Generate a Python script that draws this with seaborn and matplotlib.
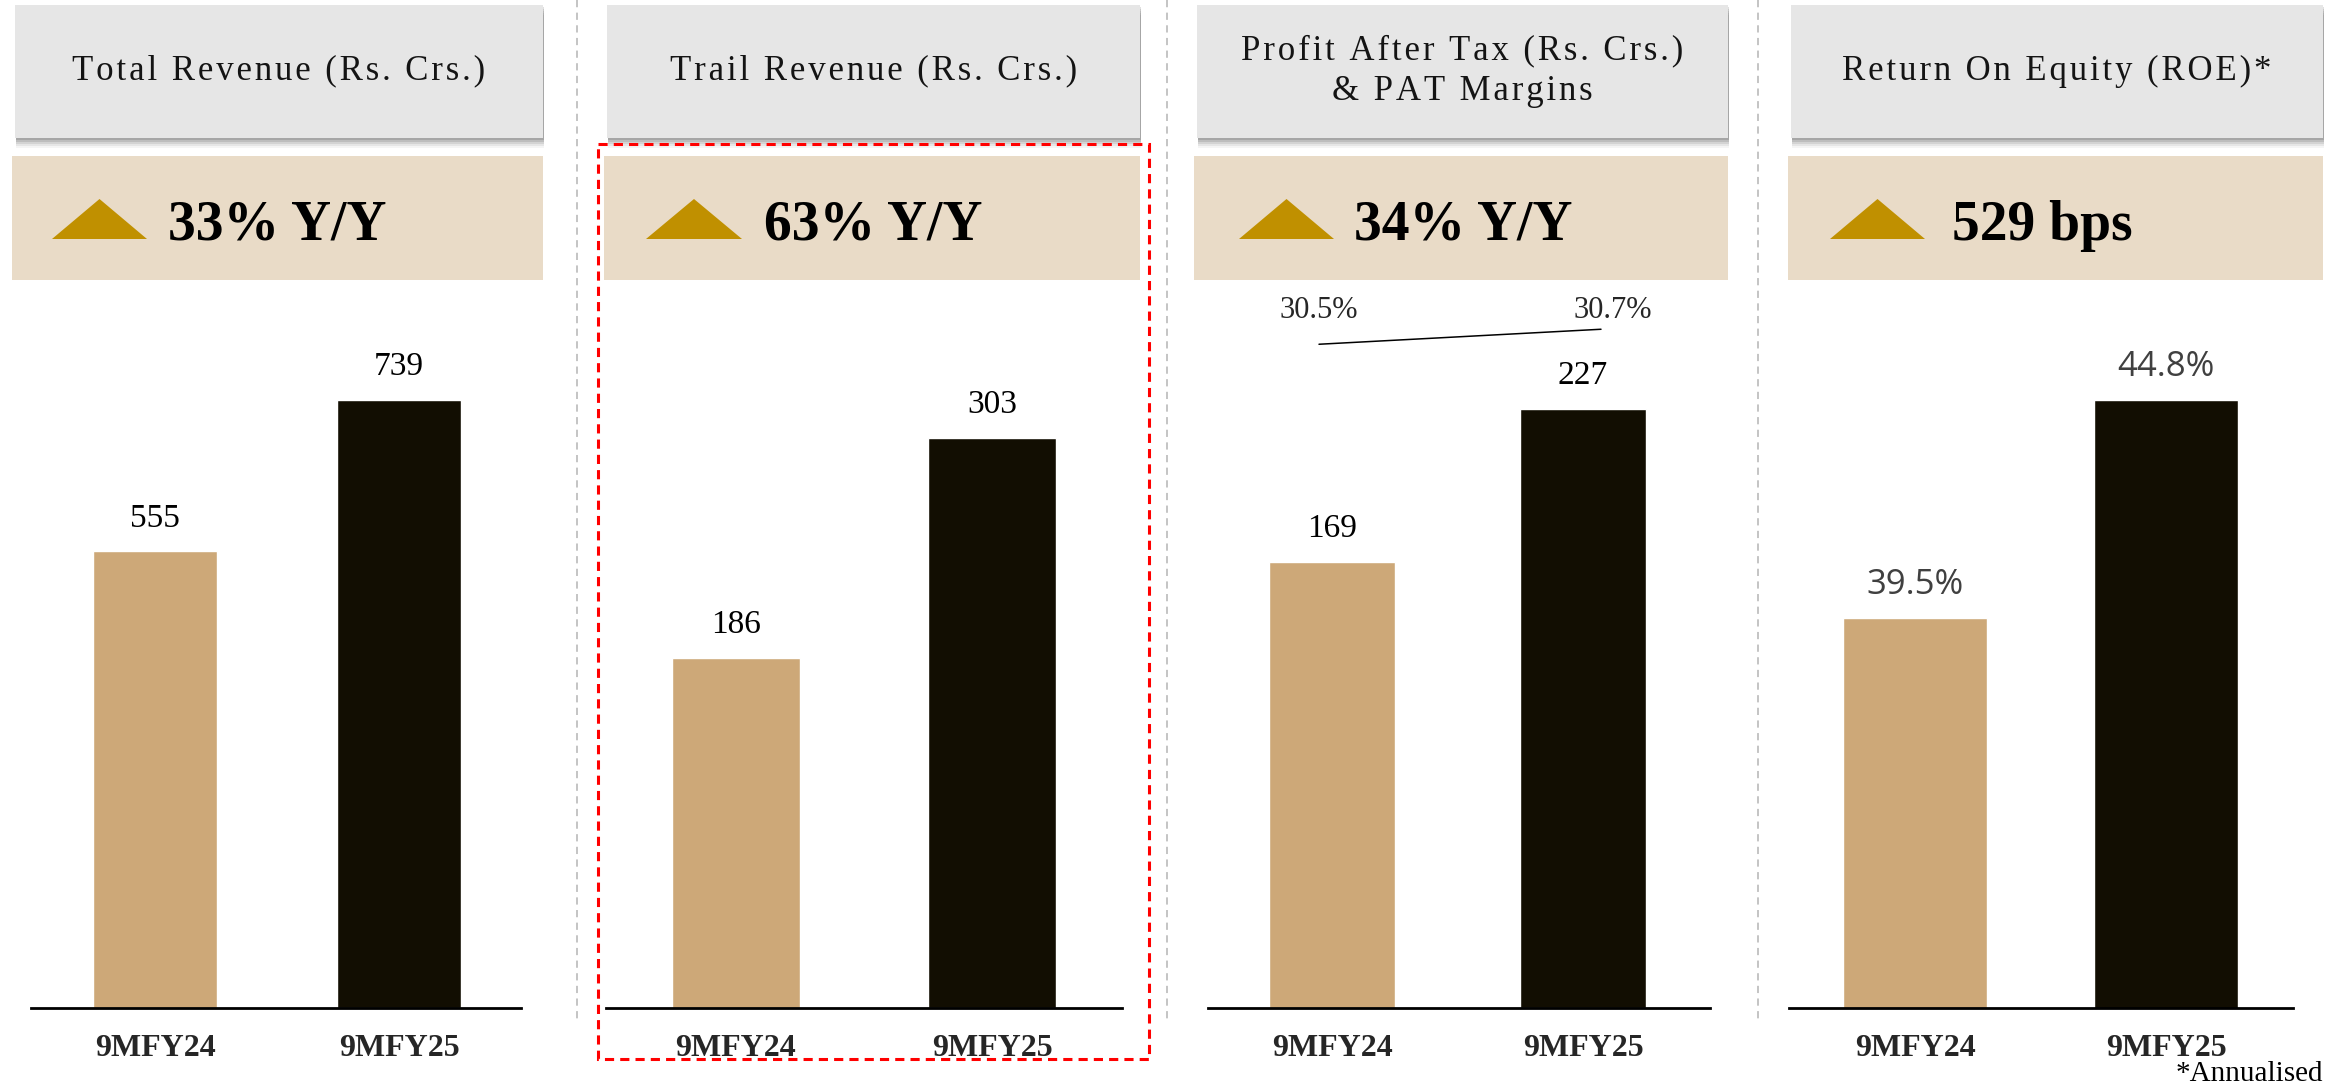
import matplotlib
matplotlib.use('Agg')
import matplotlib.pyplot as plt
from matplotlib.patches import Rectangle, Polygon
import seaborn as sns

sns.set_style('white')
plt.rcParams['font.family'] = ['Liberation Serif', 'DejaVu Serif']

# data
periods = ['9MFY24', '9MFY25']
total_revenue = [555, 739]
trail_revenue = [186, 303]
pat = [169, 227]
pat_margin = [30.5, 30.7]
roe = [39.5, 44.8]
titles = ['Total Revenue (Rs. Crs.)', 'Trail Revenue (Rs. Crs.)',
          'Profit After Tax (Rs. Crs.)\n& PAT Margins', 'Return On Equity (ROE)*']
growth = ['33% Y/Y', '63% Y/Y', '34% Y/Y', '529 bps']

TAN = '#CDA878'
DARK = '#120E02'
W, H = 2346, 1088
TOP, BASE = 300, 1008

fig = plt.figure(figsize=(W / 100, H / 100), dpi=100)


def add_px_axes(left, right):
    return fig.add_axes([left / W, 1 - BASE / H, (right - left) / W, (BASE - TOP) / H])


def spaced(s):
    # header text in the deck is letter-spaced
    return '\n'.join('\u200a'.join(line) for line in s.split('\n'))


# layout in pixels: baseline extent, bar centres, bar width, y range
panels = [
    dict(vals=total_revenue, base=(31, 521), cent=(155, 399), width=0.51, ylim=(0, 860.5), fmt='{}'),
    dict(vals=trail_revenue, base=(606, 1122), cent=(736, 992), width=0.50, ylim=(0, 376.4), fmt='{}'),
    dict(vals=pat, base=(1208, 1710), cent=(1332, 1583), width=0.50, ylim=(0, 268.3), fmt='{}'),
    dict(vals=roe, base=(1789, 2293), cent=(1915, 2166), width=0.57, ylim=(30.02, 47.23), fmt='{}%'),
]

for k, p in enumerate(panels):
    l, r = p['base']
    c0, c1 = p['cent']
    s = c1 - c0
    ax = add_px_axes(l, r)
    sns.barplot(x=periods, y=p['vals'], hue=periods, palette=[TAN, DARK], saturation=1,
                width=p['width'], legend=False, ax=ax)
    ax.set_xlim((l - c0) / s, (r - c0) / s)
    ax.set_ylim(*p['ylim'])
    for side in ['top', 'left', 'right']:
        ax.spines[side].set_visible(False)
    ax.spines['bottom'].set_color('black')
    ax.spines['bottom'].set_linewidth(2)
    ax.set_yticks([])
    ax.set_xlabel('')
    ax.set_ylabel('')
    ax.tick_params(axis='x', length=0, pad=19)
    for t in ax.get_xticklabels():
        t.set_fontweight('bold')
        t.set_fontsize(23)
    for i, v in enumerate(p['vals']):
        if k == 3:
            ax.annotate(p['fmt'].format(v), xy=(i, v), xytext=(0, 33), textcoords='offset pixels',
                        ha='center', va='center', fontsize=25, color='#404040', family='Open Sans')
        else:
            ax.annotate(p['fmt'].format(v), xy=(i, v), xytext=(0, 33), textcoords='offset pixels',
                        ha='center', va='center', fontsize=24, color='black')
    ax.patch.set_alpha(0)

# PAT margin line
lax = add_px_axes(1208, 1710)
lax.set_xlim((1208 - 1319) / 282, (1710 - 1319) / 282)
lax.set_ylim(21.65, 31.09)
sns.lineplot(x=list(range(len(periods))), y=pat_margin, color='black', linewidth=1.1, ax=lax)
lax.annotate(f'{pat_margin[0]}%', xy=(0, pat_margin[0]), xytext=(0, 34), textcoords='offset pixels',
             ha='center', va='center', fontsize=22)
lax.annotate(f'{pat_margin[1]}%', xy=(1, pat_margin[1]), xytext=(12, 19), textcoords='offset pixels',
             ha='center', va='center', fontsize=22)
lax.axis('off')

# decorations in pixel space
dec = fig.add_axes([0, 0, 1, 1], zorder=5)
dec.set_xlim(0, W)
dec.set_ylim(H, 0)
dec.axis('off')

headers = [(15, 543), (607, 1140), (1197, 1728), (1791, 2323)]
tri = [(52, 147), (646, 742), (1239, 1334), (1830, 1925)]
txt_x = [168, 764, 1354, 1952]

for (x0, x1), title, g, (t0, t1), tx in zip(headers, titles, growth, tri, txt_x):
    # soft shadow under the grey header
    for d, a in [(10, 0.04), (8, 0.06), (6, 0.08), (4, 0.1), (2, 0.12)]:
        dec.add_patch(Rectangle((x0 + 1, 5 + d), x1 - x0, 133, color='black', alpha=a, lw=0))
    dec.add_patch(Rectangle((x0, 5), x1 - x0, 133, color='#E6E6E6', lw=0))
    dec.text((x0 + x1) / 2, 71, spaced(title), ha='center', va='center', fontsize=25,
             color='#141414', linespacing=1.3)
    dec.add_patch(Rectangle((x0 - 3, 156), x1 - x0 + 3, 124, color='#E9DBC7', lw=0))
    dec.add_patch(Polygon([(t0, 239), (t1, 239), ((t0 + t1) / 2, 199)], closed=True,
                          color='#C09000', lw=0))
    dec.text(tx, 240, g, ha='left', va='baseline', fontsize=40, fontweight='bold', color='black')

for sx in [577, 1167, 1758]:
    dec.plot([sx, sx], [0, 1020], color='#BFBFBF', lw=1.3, linestyle=(0, (4, 3)))

dec.add_patch(Rectangle((598, 144), 551, 915, fill=False, edgecolor='#FF0000', lw=2.2,
                        linestyle=(0, (3, 2))))

dec.text(2323, 1074, '*Annualised', ha='right', va='center', fontsize=21, color='black')

fig.savefig('out.png', dpi=100, facecolor='white')
